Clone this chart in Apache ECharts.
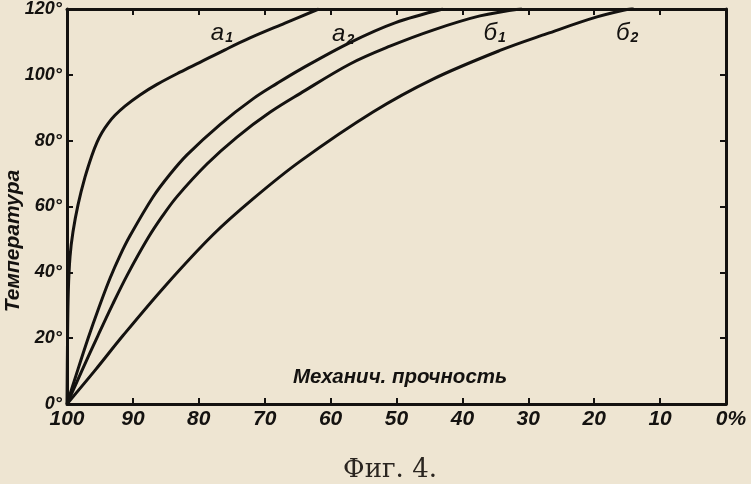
<!DOCTYPE html>
<html>
<head>
<meta charset="utf-8">
<script src="https://cdn.jsdelivr.net/npm/echarts@6/dist/echarts.min.js"></script>
<style>
html,body{margin:0;padding:0;background:#eee5d2;}
#chart{width:751px;height:484px;}
</style>
</head>
<body>
<div id="chart"></div>
<script>
// Mechanical strength (%) vs temperature (°) — pairs [strength, temperature]
var curveA1 = [[100,0],[99.92,19.3],[99.80,34.3],[99.54,44.8],[99.09,52.3],[98.33,60.5],[97.27,68.9],[96.21,75.6],[95.45,79.5],[94.69,82.5],[93.78,85.2],[92.72,87.7],[91.20,90.5],[88.92,93.9],[86.34,97.1],[82.85,100.8],[79.82,103.8],[76.02,107.6],[72.23,111.2],[66.92,115.7],[61.8,120]];
var curveA2 = [[100,0],[98.63,8.7],[96.81,19.9],[95.14,29.4],[93.47,38.2],[91.96,45.1],[90.44,51.1],[86.95,62.9],[84.37,69.8],[81.79,75.7],[76.78,84.9],[71.78,92.7],[68.13,97.4],[64.64,101.6],[57.06,109.8],[50.23,115.8],[42.94,120]];
var curveB1 = [[100,0],[97.72,10.2],[95.30,20.8],[93.02,30.5],[90.74,39.6],[87.71,50.4],[85.58,56.9],[83.31,63.0],[78.76,72.9],[74.20,81.1],[69.20,88.6],[64.64,94.3],[57.06,103.3],[50.99,108.7],[44.46,113.6],[37.33,117.9],[30.96,120.1]];
var curveB2 = [[100,0],[95.75,10.2],[91.50,20.8],[85.13,35.8],[77.85,51.4],[71.78,62.3],[64.64,73.7],[53.57,88.7],[44.46,98.7],[34.29,107.4],[27.16,112.5],[19.58,117.6],[14.0,120.3]];
var curveNames = ['a1','a2','б1','б2'];
var curveLabelBase = ['a','a','б','б'];
var curveLabelSub = ['1','2','1','2'];
var xTicks = [100,90,80,70,60,50,40,30,20,10,0];
var yTicks = [0,20,40,60,80,100,120];
var xAxisTitle = 'Механич. прочность';
var yAxisTitle = 'Температура';
var caption = 'Фиг. 4.';

var labelAnchors = [[76.5,113],[58.1,112.5],[35.1,113],[15.0,113]];
var curves = [curveA1, curveA2, curveB1, curveB2];

var ink = '#141210';
var numFont = {fontFamily:'Liberation Sans', fontStyle:'italic', fontWeight:'bold', color:ink};

var chart = echarts.init(document.getElementById('chart'), null, {renderer:'canvas'});

var series = curves.map(function(c, i){
  return {
    name: curveNames[i],
    type: 'line',
    data: c,
    smooth: 0.35,
    symbol: 'none',
    lineStyle: {color: ink, width: 3},
    clip: true,
    markPoint: {
      symbol: 'circle', symbolSize: 0,
      data: [{coord: labelAnchors[i], value: 0}],
      label: {
        show: true, position: 'inside',
        formatter: '{b|' + curveLabelBase[i] + '}{s|' + curveLabelSub[i] + '}',
        rich: {
          b: {fontFamily:'Liberation Sans', fontStyle:'italic', fontSize:24, color:ink, verticalAlign:'bottom'},
          s: {fontFamily:'Liberation Sans', fontStyle:'italic', fontWeight:'bold', fontSize:14, color:ink, padding:[12,0,0,1], verticalAlign:'bottom'}
        }
      }
    }
  };
});

var axisLine = {show:true, onZero:false, lineStyle:{color:ink, width:3}};
var tick = {show:true, inside:true, length:6, lineStyle:{color:ink, width:2}};
var option = {
  backgroundColor: '#eee5d2',
  animation: false,
  grid: {left:67, right:25, top:5, bottom:80, containLabel:false},
  xAxis: [{
    type:'value', min:0, max:100, interval:10, inverse:true, position:'bottom',
    axisLine: axisLine, axisTick: tick, splitLine: {show:false},
    axisLabel: Object.assign({fontSize:21, margin:5,
      formatter: function(v){ return v === 0 ? '{p|0%}' : String(v); },
      rich: {p: {fontFamily:'Liberation Sans', fontStyle:'italic', fontWeight:'bold', fontSize:21, color:ink, padding:[0,0,0,10]}}
    }, numFont)
  },{
    type:'value', min:0, max:100, interval:10, inverse:true, position:'top',
    axisLine: axisLine, axisTick: tick, splitLine: {show:false}, axisLabel:{show:false}
  }],
  yAxis: [{
    type:'value', min:0, max:120, interval:20, position:'left',
    axisLine: axisLine, axisTick: tick, splitLine: {show:false},
    axisLabel: Object.assign({fontSize:18, margin:5, formatter: function(v){ return v + '°'; }}, numFont)
  },{
    type:'value', min:0, max:120, interval:20, position:'right',
    axisLine: axisLine, axisTick: tick, splitLine: {show:false}, axisLabel:{show:false}
  }],
  series: series,
  graphic: [
    {type:'text', left:293, top:367, style:{text:xAxisTitle, fontFamily:'Liberation Sans', fontStyle:'italic', fontWeight:'bold', fontSize:20.5, fill:ink}},
    {type:'text', x:13, y:241, rotation:Math.PI/2, style:{text:yAxisTitle, fontFamily:'Liberation Sans', fontStyle:'italic', fontWeight:'bold', fontSize:21, fill:ink, align:'center', verticalAlign:'middle'}},
    {type:'text', x:390, y:470, style:{text:caption, fontFamily:'DejaVu Serif', fontSize:26, fill:'#2a2520', align:'center', verticalAlign:'middle'}}
  ]
};
chart.setOption(option);
</script>
</body>
</html>
